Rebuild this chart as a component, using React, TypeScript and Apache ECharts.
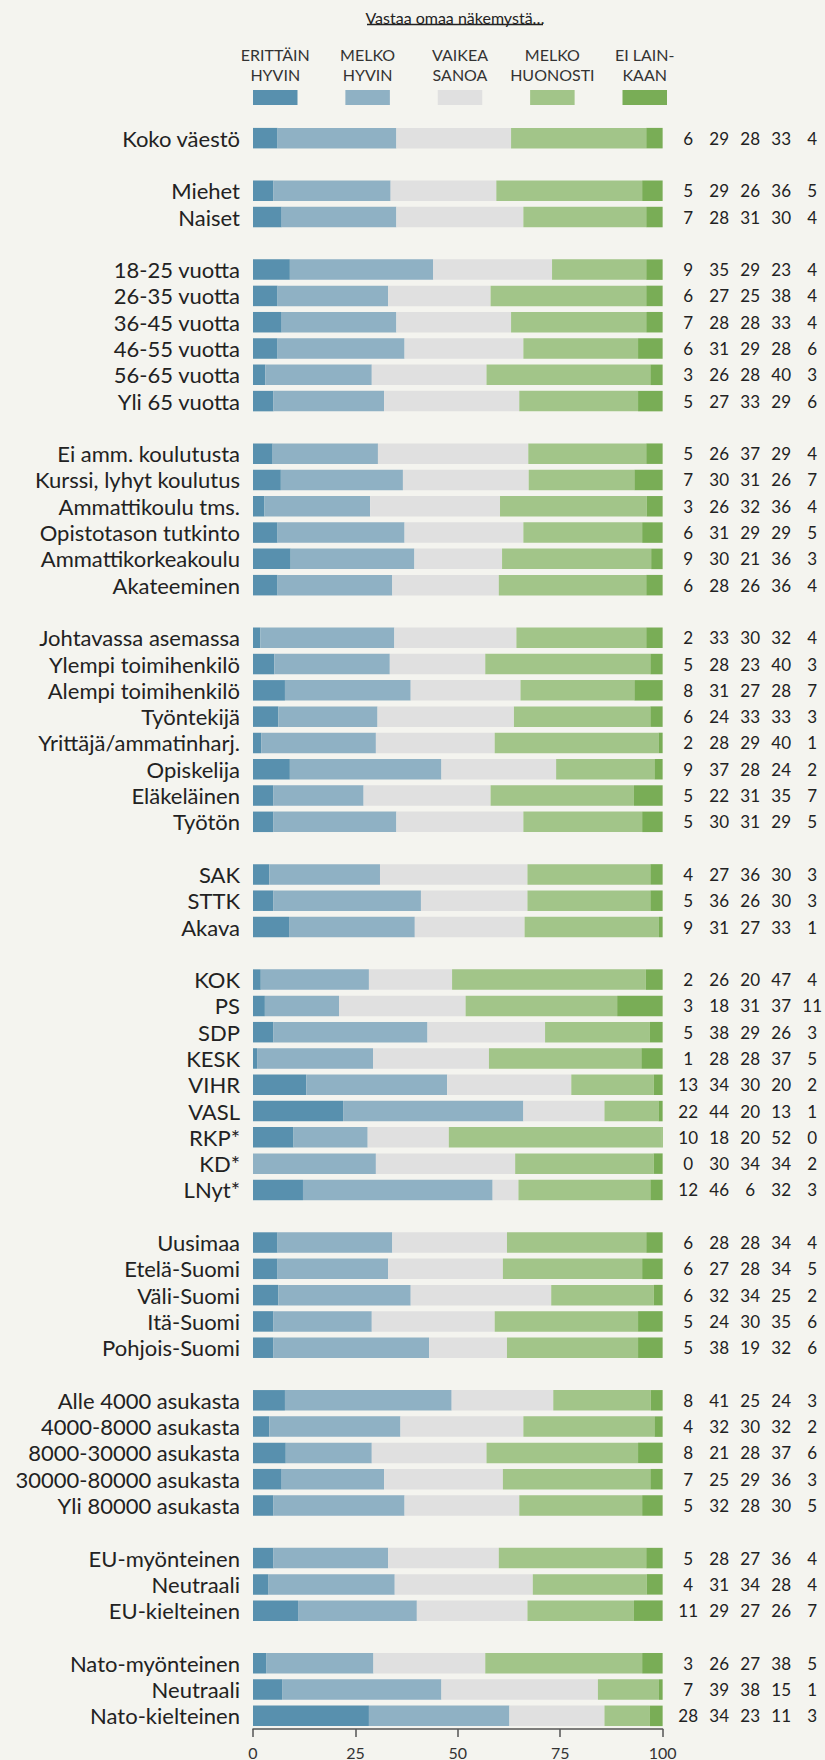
import { useEffect, useRef } from "react";
import * as echarts from "echarts";

const categories = [
  "Koko väestö", "",
  "Miehet", "Naiset", "",
  "18-25 vuotta", "26-35 vuotta", "36-45 vuotta", "46-55 vuotta", "56-65 vuotta", "Yli 65 vuotta", "",
  "Ei amm. koulutusta", "Kurssi, lyhyt koulutus", "Ammattikoulu tms.", "Opistotason tutkinto", "Ammattikorkeakoulu", "Akateeminen", "",
  "Johtavassa asemassa", "Ylempi toimihenkilö", "Alempi toimihenkilö", "Työntekijä", "Yrittäjä/ammatinharj.", "Opiskelija", "Eläkeläinen", "Työtön", "",
  "SAK", "STTK", "Akava", "",
  "KOK", "PS", "SDP", "KESK", "VIHR", "VASL", "RKP*", "KD*", "LNyt*", "",
  "Uusimaa", "Etelä-Suomi", "Väli-Suomi", "Itä-Suomi", "Pohjois-Suomi", "",
  "Alle 4000 asukasta", "4000-8000 asukasta", "8000-30000 asukasta", "30000-80000 asukasta", "Yli 80000 asukasta", "",
  "EU-myönteinen", "Neutraali", "EU-kielteinen", "",
  "Nato-myönteinen", "Neutraali", "Nato-kielteinen",
];

const erittainHyvin = [
  6, null,
  5.0, 7, null,
  9, 6, 7, 6, 3, 5, null,
  4.8, 6.8, 2.8, 6, 9.2, 6, null,
  1.8, 5.2, 7.8, 6.2, 2, 9, 5, 5, null,
  4, 5, 8.8, null,
  1.9, 2.9, 5.0, 1.0, 13.0, 22.0, 9.9, 0, 12.2, null,
  6, 6, 6.2, 5, 5, null,
  7.8, 4, 8, 7, 5, null,
  5, 3.8, 11, null,
  3.2, 7.1, 28.3,
];

const melkoHyvin = [
  29, null,
  28.6, 28, null,
  35, 27, 28, 31, 26, 27, null,
  25.7, 29.8, 25.8, 31, 30.2, 28, null,
  32.7, 28.2, 30.7, 24.2, 28, 37, 22, 30, null,
  27, 36, 30.7, null,
  26.4, 18.1, 37.6, 28.3, 34.4, 44.0, 18.1, 30.0, 46.3, null,
  28, 27, 32.3, 24, 38, null,
  40.7, 32, 21, 25, 32, null,
  28, 30.8, 29, null,
  26.2, 38.9, 34.3,
];

const vaikeaSanoa = [
  28, null,
  25.8, 31, null,
  29, 25, 28, 29, 28, 33, null,
  36.7, 30.7, 31.7, 29, 21.4, 26, null,
  29.8, 23.3, 26.8, 33.3, 29, 28, 31, 31, null,
  36, 26, 26.8, null,
  20.3, 30.9, 28.7, 28.3, 30.3, 19.8, 19.8, 34.0, 6.3, null,
  28, 28, 34.3, 30, 19, null,
  24.8, 30, 28, 29, 28, null,
  27, 33.7, 27, null,
  27.3, 38.2, 23.2,
];

const melkoHuonosti = [
  33, null,
  35.6, 30, null,
  23, 38, 33, 28, 40, 29, null,
  28.8, 25.8, 35.8, 29, 36.4, 36, null,
  31.7, 40.3, 27.8, 33.3, 40, 24, 35, 29, null,
  30, 30, 32.8, null,
  47.3, 37.0, 25.6, 37.2, 20.1, 13.2, 52.0, 33.8, 32.2, null,
  34, 34, 25.0, 35, 32, null,
  23.8, 32, 37, 36, 30, null,
  36, 27.8, 26, null,
  38.3, 14.9, 11.1,
];

const eiLainkaan = [
  4, null,
  5.0, 4, null,
  4, 4, 4, 6, 3, 6, null,
  4.0, 6.9, 3.9, 5, 2.8, 4, null,
  4.0, 3.0, 6.9, 3.0, 1, 2, 7, 5, null,
  3, 3, 0.9, null,
  4.1, 11.1, 3.1, 5.2, 2.2, 1.0, 0.2, 2.2, 3.0, null,
  4, 5, 2.2, 6, 6, null,
  2.9, 2, 6, 3, 5, null,
  4, 3.9, 7, null,
  5.0, 0.9, 3.1,
];

const seriesNames = ["ERITTÄIN HYVIN", "MELKO HYVIN", "VAIKEA SANOA", "MELKO HUONOSTI", "EI LAINKAAN"];
const legendLabels = ["ERITTÄIN\nHYVIN", "MELKO\nHYVIN", "VAIKEA\nSANOA", "MELKO\nHUONOSTI", "EI LAIN-\nKAAN"];
const seriesColors = ["#5890ae", "#8fb1c4", "#e0e0e0", "#a2c589", "#79ad56"];
const xTicks = [0, 25, 50, 75, 100];
const titleText = "Vastaa omaa näkemystä…";

const FONT = "Lato, 'Noto Sans', sans-serif";

export default function App() {
  const ref = useRef<HTMLDivElement>(null);

  useEffect(() => {
    document.body.style.margin = "0";
    const chart = echarts.init(ref.current!, null, { renderer: "svg" });
    const allSeries = [erittainHyvin, melkoHyvin, vaikeaSanoa, melkoHuonosti, eiLainkaan];

    const gridLeft = 253;
    const gridRight = 158;
    const plotW = 825 - gridLeft - gridRight;
    const swW = 44.5;
    const swStep = (plotW - swW) / (legendLabels.length - 1);

    const legendGraphics: any[] = [];
    legendLabels.forEach((lab, i) => {
      const x = gridLeft + i * swStep;
      legendGraphics.push({
        type: "rect",
        shape: { x, y: 90, width: swW, height: 15 },
        style: { fill: seriesColors[i] },
        silent: true,
      });
      legendGraphics.push({
        type: "text",
        x: x + swW / 2,
        y: 64,
        style: {
          text: lab,
          align: "center",
          verticalAlign: "middle",
          fontFamily: FONT,
          fontSize: 16,
          lineHeight: 20,
          fill: "#333",
        },
        silent: true,
      });
    });

    const option: any = {
      animation: false,
      backgroundColor: "#f4f4ef",
      textStyle: { fontFamily: FONT },
      grid: { left: gridLeft, right: gridRight, top: 125, bottom: 31, containLabel: false },
      xAxis: {
        type: "value",
        min: xTicks[0],
        max: xTicks[xTicks.length - 1],
        interval: 25,
        axisLine: { show: true, lineStyle: { color: "#555", width: 1.5 } },
        axisTick: { show: true, length: 8, lineStyle: { color: "#555", width: 1.5 } },
        splitLine: { show: false },
        axisLabel: { fontSize: 16, color: "#333", margin: 15, fontFamily: FONT },
      },
      yAxis: [
        {
          type: "category",
          inverse: true,
          data: categories,
          axisLine: { show: false },
          axisTick: { show: false },
          axisLabel: { interval: 0, fontSize: 22, color: "#222", margin: 13, fontFamily: FONT },
        },
        {
          type: "category",
          inverse: true,
          position: "right",
          data: categories,
          axisLine: { show: false },
          axisTick: { show: false },
          axisLabel: {
            interval: 0,
            margin: 10,
            formatter: (v: string, idx: number) => {
              if (!v) return "";
              return allSeries.map((s) => `{n|${Math.round(s[idx] as number)}}`).join("");
            },
            rich: {
              n: { width: 31, align: "center", fontSize: 17, color: "#222", fontFamily: FONT },
            },
          },
        },
      ],
      series: allSeries.map((data, i) => ({
        name: seriesNames[i],
        type: "bar",
        stack: "total",
        yAxisIndex: 0,
        data,
        barWidth: 20.5,
        itemStyle: { color: seriesColors[i] },
        silent: true,
        emphasis: { disabled: true },
      })),
      graphic: [
        {
          type: "text",
          x: 455,
          y: 17,
          style: {
            text: titleText,
            align: "center",
            verticalAlign: "middle",
            fontFamily: FONT,
            fontSize: 16,
            fill: "#222",
          },
          silent: true,
        },
        {
          type: "line",
          shape: { x1: 367, y1: 24.5, x2: 543, y2: 24.5 },
          style: { stroke: "#222", lineWidth: 1.3 },
          silent: true,
        },
        ...legendGraphics,
      ],
    };

    chart.setOption(option);
    return () => chart.dispose();
  }, []);

  return (
    <div
      ref={ref}
      style={{ position: "absolute", left: 0, top: 0, width: 825, height: 1760 }}
    />
  );
}
